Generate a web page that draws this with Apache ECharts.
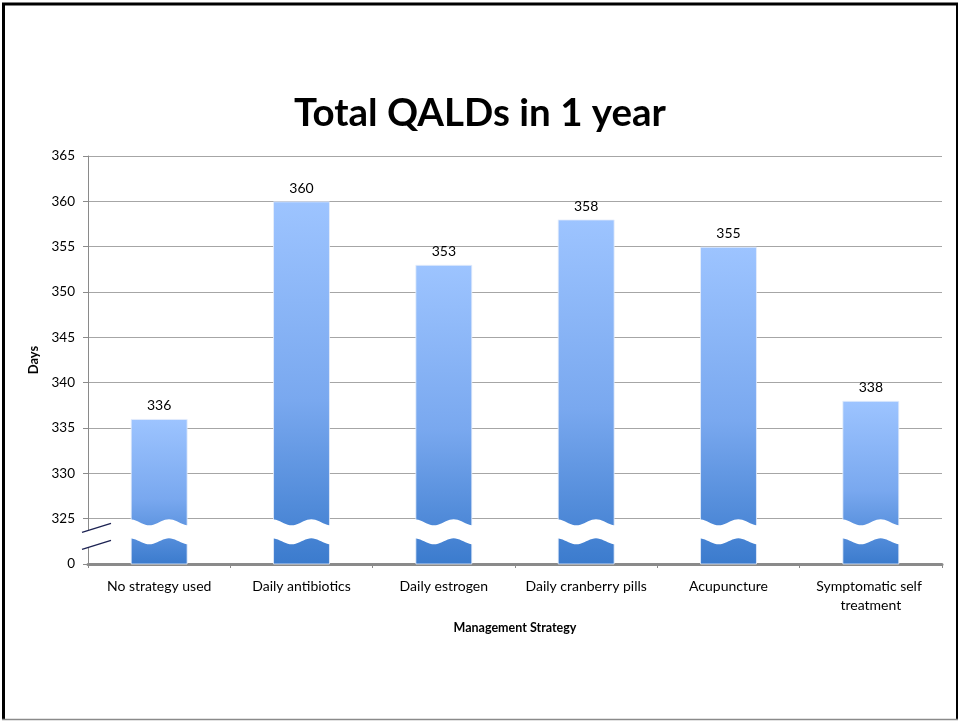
<!DOCTYPE html>
<html>
<head>
<meta charset="utf-8">
<title>Total QALDs in 1 year</title>
<script src="https://cdn.jsdelivr.net/npm/echarts@6/dist/echarts.min.js"></script>
<style>
  html, body { margin: 0; padding: 0; background: #fff; }
  #chart { width: 960px; height: 721px; }
</style>
</head>
<body>
<div id="chart"></div>
<script>
// Management strategies and total quality-adjusted life days over one year
const categories = [
  'No strategy used',
  'Daily antibiotics',
  'Daily estrogen',
  'Daily cranberry pills',
  'Acupuncture',
  'Symptomatic self treatment'
];
const qalds = [336, 360, 353, 358, 355, 338];
// Axis ticks: the lowest tick stands for zero (the axis is broken below 325)
const tickValues = [320, 325, 330, 335, 340, 345, 350, 355, 360, 365];
const tickLabels = ['0', '325', '330', '335', '340', '345', '350', '355', '360', '365'];

const AXIS_MIN = 320, AXIS_MAX = 365, AXIS_STEP = 5;
const BREAK_TOP = 324.6, BREAK_BOTTOM = 322.5;
const BAR_RATIO = 0.4;
const FONT = 'Lato, "Open Sans", sans-serif';

const chart = echarts.init(document.getElementById('chart'), null, { renderer: 'canvas' });

// White wavy band drawn across each bar where the value axis is cut
function renderBarBreak(params, api) {
  const idx = api.value(0);
  const center = api.coord([idx, BREAK_TOP]);
  const bottomPt = api.coord([idx, BREAK_BOTTOM]);
  const w = api.size([1, 0])[0] * BAR_RATIO + 2;
  const x0 = center[0] - w / 2;
  const yTop = center[1], yBot = bottomPt[1];
  const amp = 3, steps = 30;
  const pts = [];
  for (let i = 0; i <= steps; i++) {
    const t = i / steps;
    pts.push([x0 + w * t, yTop - amp * Math.cos(3 * Math.PI * t)]);
  }
  for (let i = steps; i >= 0; i--) {
    const t = i / steps;
    pts.push([x0 + w * t, yBot - amp * Math.cos(3 * Math.PI * t)]);
  }
  return { type: 'polygon', shape: { points: pts }, style: { fill: '#ffffff' } };
}

// Two slash marks over the value axis at the cut
function renderAxisBreak(params, api) {
  const cs = params.coordSys;
  const ax = cs.x;
  const y1 = api.coord([0, BREAK_TOP])[1];
  const y2 = api.coord([0, BREAK_BOTTOM])[1];
  const dx0 = -6, dx1 = 23, rise = 9;
  const a = [[ax + dx0, y1 + 10], [ax + dx1, y1 + 10 - rise]];
  const b = [[ax + dx0, y2 + 8], [ax + dx1, y2 + 8 - rise]];
  return {
    type: 'group',
    children: [
      { type: 'polygon', shape: { points: [a[0], a[1], b[1], b[0]] }, style: { fill: '#ffffff' } },
      { type: 'line', shape: { x1: a[0][0], y1: a[0][1], x2: a[1][0], y2: a[1][1] },
        style: { stroke: '#1c2252', lineWidth: 1.3 } },
      { type: 'line', shape: { x1: b[0][0], y1: b[0][1], x2: b[1][0], y2: b[1][1] },
        style: { stroke: '#1c2252', lineWidth: 1.3 } }
    ]
  };
}

const option = {
  backgroundColor: '#ffffff',
  animation: false,
  title: {
    text: 'Total QALDs in 1 year',
    left: 'center',
    top: 89,
    textStyle: { fontFamily: FONT, fontSize: 38.5, fontWeight: 'bold', color: '#000' }
  },
  grid: { left: 88, top: 156, width: 854, height: 408, containLabel: false },
  xAxis: {
    type: 'category',
    data: categories,
    name: 'Management Strategy',
    nameLocation: 'middle',
    nameGap: 57,
    nameTextStyle: { fontFamily: FONT, fontSize: 12.5, fontWeight: 'bold', color: '#000' },
    axisLine: { lineStyle: { color: '#8a8a8a', width: 3 } },
    axisTick: { show: true, alignWithLabel: false, length: 4, lineStyle: { color: '#8a8a8a', width: 1 } },
    axisLabel: {
      fontFamily: FONT, fontSize: 14, color: '#000', margin: 13,
      interval: 0, width: 138, overflow: 'break', lineHeight: 19
    }
  },
  yAxis: {
    type: 'value',
    min: AXIS_MIN,
    max: AXIS_MAX,
    interval: AXIS_STEP,
    name: 'Days',
    nameLocation: 'middle',
    nameRotate: 90,
    nameGap: 45,
    nameTextStyle: { fontFamily: FONT, fontSize: 13, fontWeight: 'bold', color: '#000' },
    axisLine: { show: true, lineStyle: { color: '#8a8a8a', width: 1 } },
    axisTick: { show: true, length: 5, lineStyle: { color: '#8a8a8a' } },
    axisLabel: {
      fontFamily: FONT, fontSize: 13.5, color: '#000', margin: 13,
      formatter: function (v) {
        const i = tickValues.indexOf(v);
        return i >= 0 ? tickLabels[i] : '';
      }
    },
    splitLine: { show: true, lineStyle: { color: '#a6a6a6', width: 1 } }
  },
  series: [
    {
      type: 'bar',
      data: qalds,
      barWidth: (BAR_RATIO * 100) + '%',
      itemStyle: {
        color: new echarts.graphic.LinearGradient(0, 0, 0, 1, [
          { offset: 0, color: '#9dc4ff' },
          { offset: 0.55, color: '#79a8ef' },
          { offset: 1, color: '#3b7bcd' }
        ]),
        borderColor: 'rgba(230,238,250,0.8)',
        borderWidth: 1
      },
      label: {
        show: true,
        position: 'top',
        distance: 6,
        fontFamily: FONT,
        fontSize: 14,
        color: '#000'
      },
      z: 2
    },
    {
      type: 'custom',
      renderItem: renderBarBreak,
      data: categories.map((c, i) => [i]),
      encode: { x: 0 },
      silent: true,
      z: 5
    },
    {
      type: 'custom',
      renderItem: renderAxisBreak,
      data: [[0]],
      encode: { x: 0 },
      silent: true,
      z: 6
    }
  ],
  graphic: [
    { type: 'line', shape: { x1: 2, y1: 4, x2: 958, y2: 4 }, style: { stroke: '#000', lineWidth: 3 }, z: 10 },
    { type: 'line', shape: { x1: 3.5, y1: 3, x2: 3.5, y2: 720 }, style: { stroke: '#000', lineWidth: 3 }, z: 10 },
    { type: 'line', shape: { x1: 957, y1: 3, x2: 957, y2: 720 }, style: { stroke: '#000', lineWidth: 2 }, z: 10 },
    { type: 'line', shape: { x1: 2, y1: 719.5, x2: 958, y2: 719.5 }, style: { stroke: '#8a8a8a', lineWidth: 1.5 }, z: 10 }
  ]
};

chart.setOption(option);
</script>
</body>
</html>
